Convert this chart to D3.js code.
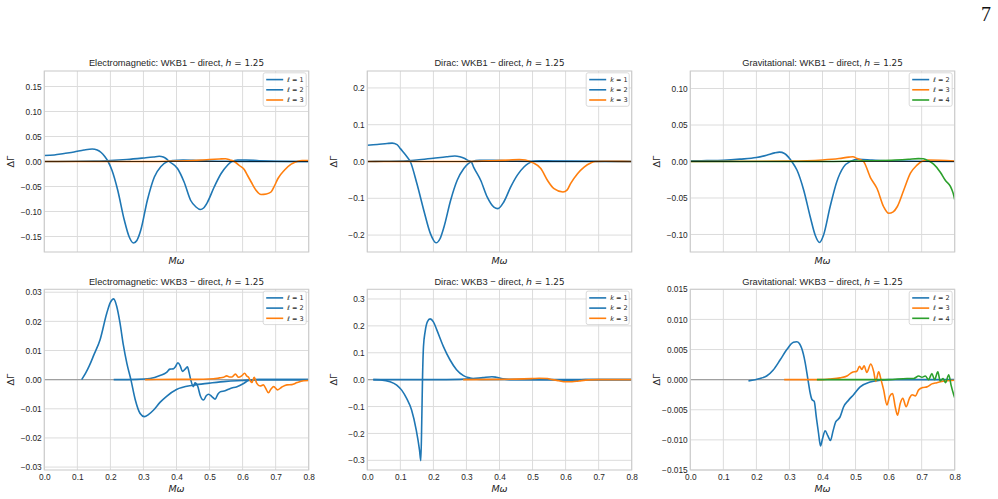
<!DOCTYPE html>
<html>
<head>
<meta charset="utf-8">
<script src="https://cdn.jsdelivr.net/npm/d3@7"></script>
<style>
  body { margin: 0; background: #fff; }
  svg { display: block; }
  text { font-family: "Liberation Sans", Arial, sans-serif; fill: #262626; }
</style>
</head>
<body>
<script>
// ---- data: [Mω, ΔΓ] ----
// Electromagnetic WKB1
const em1L1 = [[0,0.012],[0.03,0.013],[0.06,0.016],[0.09,0.019],[0.12,0.023],[0.145,0.025],[0.16,0.023],[0.172,0.018],[0.183,0.01],[0.193,0],[0.205,-0.018],[0.222,-0.057],[0.242,-0.117],[0.257,-0.151],[0.27,-0.163],[0.28,-0.158],[0.292,-0.137],[0.312,-0.077],[0.333,-0.031],[0.353,-0.01],[0.373,0],[0.39,0.002],[0.42,0.003],[0.45,0.0025],[0.5,0.001],[0.55,0.0005],[0.6,0.0002],[0.8,0]];
const em1L2 = [[0,0],[0.1,0.0005],[0.15,0.001],[0.2,0.002],[0.25,0.004],[0.3,0.007],[0.33,0.009],[0.348,0.0105],[0.36,0.009],[0.37,0.005],[0.378,0],[0.403,-0.014],[0.423,-0.041],[0.443,-0.078],[0.459,-0.091],[0.472,-0.096],[0.482,-0.093],[0.494,-0.081],[0.514,-0.051],[0.535,-0.024],[0.555,-0.007],[0.567,0],[0.585,0.003],[0.61,0.003],[0.65,0.0015],[0.7,0.0005],[0.8,0]];
const em1L3 = [[0,0],[0.3,0],[0.4,0.001],[0.45,0.002],[0.5,0.004],[0.53,0.005],[0.548,0.0055],[0.562,0.003],[0.575,0],[0.59,-0.008],[0.605,-0.016],[0.615,-0.028],[0.626,-0.041],[0.64,-0.057],[0.656,-0.066],[0.672,-0.065],[0.686,-0.061],[0.697,-0.048],[0.707,-0.034],[0.727,-0.017],[0.747,-0.0054],[0.767,0.0007],[0.78,0.002],[0.8,0.002]];
// Dirac WKB1
const di1K1 = [[0,0.044],[0.03,0.046],[0.06,0.049],[0.075,0.05],[0.09,0.046],[0.1,0.035],[0.12,0.013],[0.13,0],[0.15,-0.06],[0.171,-0.133],[0.191,-0.196],[0.208,-0.221],[0.22,-0.21],[0.232,-0.178],[0.252,-0.106],[0.272,-0.051],[0.292,-0.019],[0.317,0],[0.34,0.003],[0.38,0.003],[0.45,0.001],[0.55,0.0003],[0.8,0]];
const di1K2 = [[0,0],[0.05,0.0005],[0.1,0.001],[0.15,0.004],[0.2,0.009],[0.24,0.013],[0.265,0.015],[0.28,0.013],[0.295,0.008],[0.307,0.002],[0.314,0],[0.322,-0.016],[0.343,-0.051],[0.363,-0.097],[0.383,-0.124],[0.395,-0.128],[0.413,-0.11],[0.434,-0.069],[0.454,-0.037],[0.474,-0.015],[0.5,0],[0.52,0.002],[0.56,0.0015],[0.8,0]];
const di1K3 = [[0,0],[0.3,0],[0.38,0.002],[0.43,0.004],[0.46,0.005],[0.478,0.004],[0.49,0.001],[0.5,-0.003],[0.525,-0.019],[0.545,-0.051],[0.565,-0.074],[0.592,-0.083],[0.605,-0.077],[0.615,-0.06],[0.636,-0.033],[0.656,-0.015],[0.676,-0.004],[0.69,0],[0.72,0.0005],[0.8,0]];
// Gravitational WKB1
const gr1L2 = [[0,0.001],[0.05,0.0012],[0.1,0.0017],[0.15,0.0032],[0.2,0.0054],[0.231,0.0086],[0.255,0.0118],[0.27,0.0128],[0.285,0.011],[0.297,0.006],[0.307,0],[0.323,-0.012],[0.343,-0.039],[0.363,-0.076],[0.378,-0.101],[0.391,-0.111],[0.403,-0.101],[0.423,-0.062],[0.443,-0.028],[0.464,-0.0074],[0.484,0],[0.51,0.003],[0.55,0.002],[0.6,0.001],[0.8,0]];
const gr1L3 = [[0,0],[0.3,0.0005],[0.4,0.002],[0.45,0.004],[0.48,0.006],[0.492,0.0065],[0.505,0.004],[0.524,0],[0.545,-0.022],[0.565,-0.037],[0.585,-0.062],[0.6,-0.071],[0.614,-0.069],[0.626,-0.062],[0.646,-0.039],[0.666,-0.016],[0.686,-0.005],[0.7,0],[0.72,0.002],[0.8,0.0005]];
const gr1L4 = [[0,0],[0.4,0],[0.55,0.001],[0.62,0.002],[0.66,0.003],[0.69,0.004],[0.705,0.0038],[0.715,0.002],[0.725,0],[0.737,-0.004],[0.757,-0.015],[0.772,-0.026],[0.787,-0.034],[0.795,-0.043],[0.8,-0.052]];
// Electromagnetic WKB3
const em3L1 = [[0.113,0],[0.125,0.0022],[0.136,0.0047],[0.15,0.0085],[0.169,0.0138],[0.189,0.0228],[0.2,0.0265],[0.21,0.0277],[0.219,0.0252],[0.229,0.0195],[0.239,0.012],[0.25,0.0055],[0.262,0],[0.275,-0.0068],[0.29,-0.0116],[0.303,-0.0127],[0.315,-0.012],[0.33,-0.0105],[0.35,-0.0078],[0.37,-0.0057],[0.4,-0.0034],[0.45,-0.0019],[0.5,-0.0012],[0.55,-0.0006],[0.6,-0.0003],[0.65,0],[0.8,0]];
const em3L2 = [[0.21,0],[0.28,0.0001],[0.32,0.0004],[0.35,0.0014],[0.37,0.0025],[0.38,0.0036],[0.39,0.0037],[0.397,0.0045],[0.404,0.0058],[0.411,0.0048],[0.418,0.0028],[0.426,0.0036],[0.433,0.0044],[0.438,0.0025],[0.443,0],[0.451,-0.0024],[0.456,-0.0011],[0.464,-0.0022],[0.472,-0.0055],[0.482,-0.007],[0.49,-0.0055],[0.497,-0.005],[0.507,-0.0058],[0.517,-0.0067],[0.525,-0.005],[0.532,-0.0042],[0.547,-0.0038],[0.563,-0.003],[0.583,-0.0024],[0.603,-0.0013],[0.618,-0.0003],[0.64,0],[0.8,0]];
const em3L3 = [[0.305,0],[0.4,0.0001],[0.45,0.0001],[0.512,0.0003],[0.53,0.0006],[0.542,0.0008],[0.552,0.0013],[0.56,0.0009],[0.568,0.0009],[0.578,0.0019],[0.588,0.0008],[0.597,0.0013],[0.606,0.0022],[0.613,0.0012],[0.618,0.0008],[0.623,-0.0003],[0.628,-0.001],[0.635,0.0008],[0.643,-0.0013],[0.653,-0.0022],[0.663,-0.0018],[0.67,-0.003],[0.678,-0.0045],[0.686,-0.0032],[0.694,-0.0024],[0.706,-0.0035],[0.719,-0.0025],[0.734,-0.0018],[0.749,-0.0017],[0.765,-0.001],[0.785,-0.0004],[0.8,-0.0003]];
// Dirac WKB3
const di3K1 = [[0.018,0],[0.04,-0.001],[0.069,-0.0074],[0.089,-0.02],[0.104,-0.039],[0.119,-0.07],[0.134,-0.113],[0.148,-0.187],[0.158,-0.262],[0.162,-0.301],[0.165,-0.138],[0.167,0],[0.17,0.123],[0.175,0.179],[0.182,0.216],[0.19,0.226],[0.2,0.215],[0.21,0.186],[0.23,0.124],[0.25,0.074],[0.27,0.037],[0.291,0.015],[0.311,0.006],[0.331,0.002],[0.36,0.0005],[0.8,0]];
const di3K2 = [[0.018,0],[0.2,0],[0.28,0.001],[0.32,0.004],[0.35,0.008],[0.377,0.011],[0.39,0.009],[0.41,0.003],[0.43,0],[0.55,0],[0.58,-0.002],[0.6,-0.004],[0.62,-0.003],[0.66,0],[0.8,0]];
const di3K3 = [[0.29,0],[0.4,0.001],[0.45,0.002],[0.5,0.004],[0.52,0.005],[0.545,0.004],[0.56,0],[0.58,-0.004],[0.6,-0.008],[0.62,-0.008],[0.64,-0.005],[0.67,-0.001],[0.7,0],[0.8,0]];
// Gravitational WKB3
const gr3L2 = [[0.176,-0.0002],[0.211,0.0002],[0.231,0.0006],[0.251,0.0016],[0.272,0.0033],[0.292,0.005],[0.312,0.0062],[0.322,0.0063],[0.33,0.006],[0.337,0.0052],[0.347,0.003],[0.356,0],[0.363,-0.0023],[0.368,-0.0033],[0.375,-0.0036],[0.381,-0.0061],[0.388,-0.0089],[0.394,-0.011],[0.4,-0.0098],[0.408,-0.0085],[0.416,-0.0093],[0.424,-0.0101],[0.432,-0.0085],[0.44,-0.007],[0.447,-0.0066],[0.453,-0.0062],[0.464,-0.0045],[0.479,-0.0034],[0.494,-0.0025],[0.514,-0.0012],[0.544,-0.0004],[0.575,-0.0001],[0.6,0],[0.8,0]];
const gr3L3 = [[0.284,0],[0.4,0],[0.42,0.0001],[0.453,0.0003],[0.474,0.0006],[0.489,0.0012],[0.504,0.0014],[0.512,0.0022],[0.519,0.0017],[0.526,0.0023],[0.534,0.0012],[0.546,0.0026],[0.555,0.0013],[0.561,-0.0003],[0.57,0.0013],[0.577,0],[0.585,-0.0017],[0.595,-0.0042],[0.603,-0.0028],[0.612,-0.0023],[0.62,-0.0045],[0.627,-0.0059],[0.635,-0.004],[0.643,-0.0031],[0.653,-0.0045],[0.663,-0.0031],[0.671,-0.0025],[0.681,-0.0027],[0.691,-0.0017],[0.704,-0.0013],[0.716,-0.0012],[0.731,-0.0007],[0.746,-0.0005],[0.761,-0.0003],[0.8,-0.0001]];
const gr3L4 = [[0.383,0],[0.6,0],[0.656,0.0002],[0.676,0.0002],[0.691,0.0006],[0.701,0.0004],[0.711,0.0006],[0.721,0],[0.731,0.001],[0.739,0],[0.749,0.0013],[0.756,-0.0002],[0.765,0.0002],[0.772,-0.0005],[0.782,0.0008],[0.789,-0.0009],[0.797,-0.0025],[0.8,-0.003]];

// tick values per panel
const xTicks = [0, 0.1, 0.2, 0.3, 0.4, 0.5, 0.6, 0.7, 0.8];
const yTicksEm1 = [-0.15, -0.10, -0.05, 0, 0.05, 0.10, 0.15];
const yTicksDi1 = [-0.2, -0.1, 0, 0.1, 0.2];
const yTicksGr1 = [-0.10, -0.05, 0, 0.05, 0.10];
const yTicksEm3 = [-0.03, -0.02, -0.01, 0, 0.01, 0.02, 0.03];
const yTicksDi3 = [-0.3, -0.2, -0.1, 0, 0.1, 0.2, 0.3];
const yTicksGr3 = [-0.015, -0.010, -0.005, 0, 0.005, 0.010, 0.015];

const labelsEll123 = ['1', '2', '3'];
const labelsEll234 = ['2', '3', '4'];

const C0 = '#1f77b4', C1 = '#ff7f0e', C2 = '#2ca02c';

const panels = [
  { title: 'Electromagnetic: WKB1', col: 0, row: 0, ymax: 0.181, ticks: yTicksEm1, fmt: '.2f', sym: 'ℓ', names: labelsEll123, series: [em1L1, em1L2, em1L3], colors: [C0, C0, C1] },
  { title: 'Dirac: WKB1', col: 1, row: 0, ymax: 0.246, ticks: yTicksDi1, fmt: '.1f', sym: 'k', names: labelsEll123, series: [di1K1, di1K2, di1K3], colors: [C0, C0, C1] },
  { title: 'Gravitational: WKB1', col: 2, row: 0, ymax: 0.124, ticks: yTicksGr1, fmt: '.2f', sym: 'ℓ', names: labelsEll234, series: [gr1L2, gr1L3, gr1L4], colors: [C0, C1, C2] },
  { title: 'Electromagnetic: WKB3', col: 0, row: 1, ymax: 0.031, ticks: yTicksEm3, fmt: '.2f', sym: 'ℓ', names: labelsEll123, series: [em3L1, em3L2, em3L3], colors: [C0, C0, C1] },
  { title: 'Dirac: WKB3', col: 1, row: 1, ymax: 0.336, ticks: yTicksDi3, fmt: '.1f', sym: 'k', names: labelsEll123, series: [di3K1, di3K2, di3K3], colors: [C0, C0, C1] },
  { title: 'Gravitational: WKB3', col: 2, row: 1, ymax: 0.015, ticks: yTicksGr3, fmt: '.3f', sym: 'ℓ', names: labelsEll234, series: [gr3L2, gr3L3, gr3L4], colors: [C0, C1, C2] }
];

const W = 998, H = 499;
const lefts = [44.3, 367.3, 690.3];
const tops = [71, 289.3];
const pw = 264.4;
const phs = [181, 180.7];

const svg = d3.select('body').append('svg').attr('width', W).attr('height', H);
svg.append('rect').attr('width', W).attr('height', H).attr('fill', '#fff');

// page number
svg.append('text')
  .attr('x', 986).attr('y', 21)
  .attr('text-anchor', 'middle')
  .style('font-family', '"Liberation Serif", "DejaVu Serif", serif')
  .style('font-size', '20px')
  .style('fill', '#111')
  .text('7');

const minus = (s) => s.replace('-', '−');

panels.forEach((p, i) => {
  const x0 = lefts[p.col], y0 = tops[p.row], ph = phs[p.row];
  const x = d3.scaleLinear().domain([0, 0.8]).range([x0, x0 + pw]);
  const y = d3.scaleLinear().domain([-p.ymax, p.ymax]).range([y0 + ph, y0]);
  const g = svg.append('g');

  g.append('clipPath').attr('id', 'clip' + i)
    .append('rect').attr('x', x0).attr('y', y0).attr('width', pw).attr('height', ph);

  // grid
  g.selectAll('.gx').data(xTicks).enter().append('line')
    .attr('x1', (d) => x(d)).attr('x2', (d) => x(d))
    .attr('y1', y0).attr('y2', y0 + ph)
    .attr('stroke', '#dcdcdc').attr('stroke-width', 1);
  g.selectAll('.gy').data(p.ticks).enter().append('line')
    .attr('x1', x0).attr('x2', x0 + pw)
    .attr('y1', (d) => y(d)).attr('y2', (d) => y(d))
    .attr('stroke', '#dcdcdc').attr('stroke-width', 1);

  // y axis
  const yAxis = d3.axisLeft(y).tickValues(p.ticks).tickSize(0).tickPadding(2.6)
    .tickFormat((d) => minus(d3.format(p.fmt)(d)));
  const ya = g.append('g').attr('transform', `translate(${x0},0)`).call(yAxis);
  ya.select('.domain').remove();
  ya.selectAll('text').style('font-size', '8.3px').style('font-family', '"Liberation Sans", Arial, sans-serif').attr('fill', '#262626');

  // x axis (bottom row only)
  if (p.row === 1) {
    const xAxis = d3.axisBottom(x).tickValues(xTicks).tickSize(0).tickPadding(4.5)
      .tickFormat(d3.format('.1f'));
    const xa = g.append('g').attr('transform', `translate(0,${y0 + ph})`).call(xAxis);
    xa.select('.domain').remove();
    xa.selectAll('text').style('font-size', '8.3px').style('font-family', '"Liberation Sans", Arial, sans-serif').attr('fill', '#262626');
  }

  const plot = g.append('g').attr('clip-path', `url(#clip${i})`);

  if (p.row === 1) {
    plot.append('line')
      .attr('x1', x0).attr('x2', x0 + pw).attr('y1', y(0)).attr('y2', y(0))
      .attr('stroke', '#a0a0a0').attr('stroke-width', 1.4);
  }

  const line = d3.line().x((d) => x(d[0])).y((d) => y(d[1])).curve(d3.curveMonotoneX);
  p.series.forEach((s, k) => {
    plot.append('path').datum(s)
      .attr('d', line)
      .attr('fill', 'none')
      .attr('stroke', p.colors[k])
      .attr('stroke-width', 1.6)
      .attr('stroke-linejoin', 'round');
  });

  if (p.row === 0) {
    plot.append('line')
      .attr('x1', x0).attr('x2', x0 + pw).attr('y1', y(0)).attr('y2', y(0))
      .attr('stroke', '#000').attr('stroke-opacity', 0.8).attr('stroke-width', 0.9);
  }

  // frame
  g.append('rect').attr('x', x0).attr('y', y0).attr('width', pw).attr('height', ph)
    .attr('fill', 'none').attr('stroke', '#cccccc').attr('stroke-width', 1.1);

  // title
  const t = g.append('text')
    .attr('x', x0 + pw / 2).attr('y', y0 - 4.6)
    .attr('text-anchor', 'middle')
    .style('font-size', '9.3px');
  t.append('tspan').text(p.title + ' − direct, ');
  t.append('tspan').style('font-style', 'italic').style('font-family', '"DejaVu Sans", sans-serif').text('h');
  t.append('tspan').style('font-family', '"DejaVu Sans", sans-serif').style('font-size', '8.8px').text(' = 1.25');

  // axis labels
  g.append('text')
    .attr('x', x0 + pw / 2).attr('y', y0 + ph + (p.row === 0 ? 11.5 : 21.5))
    .attr('text-anchor', 'middle')
    .style('font-family', '"DejaVu Sans", sans-serif')
    .style('font-style', 'italic')
    .style('font-size', '9.5px')
    .text('Mω');
  g.append('text')
    .attr('transform', `translate(${x0 - 30},${y0 + ph / 2}) rotate(-90)`)
    .attr('text-anchor', 'middle')
    .style('font-family', '"DejaVu Sans", sans-serif')
    .style('font-size', '9.5px')
    .text('ΔΓ');

  // legend
  const lx = x0 + pw - 45.5, ly = y0 + 1.8;
  const lg = g.append('g');
  lg.append('rect').attr('x', lx).attr('y', ly).attr('width', 43).attr('height', 33.5)
    .attr('rx', 2).attr('fill', '#fff').attr('fill-opacity', 0.85)
    .attr('stroke', '#d0d0d0').attr('stroke-width', 0.8);
  p.names.forEach((n, k) => {
    const ry = ly + 6.8 + k * 10.2;
    lg.append('line').attr('x1', lx + 3).attr('x2', lx + 20).attr('y1', ry).attr('y2', ry)
      .attr('stroke', p.colors[k]).attr('stroke-width', 1.6);
    const tx = lg.append('text').attr('x', lx + 24).attr('y', ry + 2.3)
      .style('font-family', '"DejaVu Sans", sans-serif').style('font-size', '6.5px');
    tx.append('tspan').style('font-style', 'italic').text(p.sym);
    tx.append('tspan').text(' = ' + n);
  });
});
</script>
</body>
</html>
